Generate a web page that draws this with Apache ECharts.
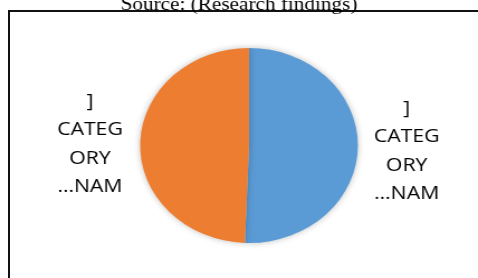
<!DOCTYPE html>
<html>
<head>
<meta charset="utf-8">
<script src="https://cdn.jsdelivr.net/npm/echarts@6/dist/echarts.min.js"></script>
<style>
  html, body { margin: 0; padding: 0; background: #fff; overflow: hidden; }
  #wrap { width: 478px; height: 278px; overflow: hidden; position: relative; }
  /* only the top and left edges of the frame are in the picture */
  #frame { position: absolute; left: 8px; top: 10px; width: 600px; height: 400px;
           border-top: 2px solid #111; border-left: 2px solid #111; box-sizing: border-box; }
  /* the original picture is stretched sideways, so the pie is an ellipse */
  #main { position: absolute; left: 0; top: 0; width: 428px; height: 278px;
          transform: scaleX(1.1168); transform-origin: 0 0; }
</style>
</head>
<body>
<div id="wrap"><div id="frame"></div><div id="main"></div></div>
<script>
// data
const categories = ['[CATEGORY NAME]', '[CATEGORY NAME]'];
const labels = [']\nCATEG\nORY\n\u2026NAM', ']\nCATEG\nORY\n\u2026NAM'];
const values = [50.6, 49.4];
const colors = ['#5B9BD5', '#ED7D31'];
const sourceText = 'Source: (Research findings)';

const sx = 1.1168;
const chart = echarts.init(document.getElementById('main'));

chart.setOption({
  animation: false,
  title: {
    text: sourceText,
    left: 'center',
    top: -9,
    textStyle: {
      fontFamily: 'Liberation Serif',
      fontWeight: 'normal',
      fontSize: 19,
      lineHeight: 19,
      color: '#000'
    }
  },
  series: [
    {
      type: 'pie',
      center: [249 / sx, 145.5],
      radius: [0, 97.5],
      startAngle: 90,
      clockwise: true,
      data: categories.map((name, i) => ({
        name: name,
        value: values[i],
        itemStyle: {color: colors[i]}
      })),
      itemStyle: {
        shadowBlur: 6,
        shadowColor: 'rgba(0,0,0,0.25)'
      },
      label: {
        show: true,
        position: 'outside',
        overflow: 'none',
        formatter: (p) => labels[p.dataIndex],
        fontFamily: 'Open Sans',
        fontSize: 19,
        lineHeight: 28.5,
        color: '#000',
        align: 'center'
      },
      labelLine: {show: false},
      labelLayout: (params) => {
        const pos = params.dataIndex === 0 ? [406.7 / sx, 151] : [90 / sx, 144];
        return {x: pos[0], y: pos[1], align: 'center', verticalAlign: 'middle'};
      }
    }
  ]
});
</script>
</body>
</html>
